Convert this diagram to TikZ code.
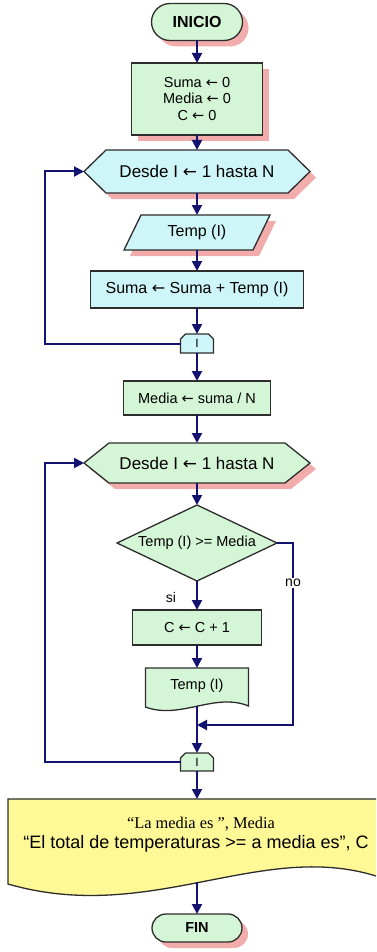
\documentclass[tikz,border=0pt]{standalone}
\usepackage{fontspec}
\setmainfont{Liberation Sans}
\newfontfamily\timesfont{Liberation Serif}
\newfontfamily\arrowfont{DejaVu Sans}
\usetikzlibrary{arrows.meta,shapes.misc,shadows}

\definecolor{gfill}{RGB}{212,245,214}
\definecolor{cfill}{RGB}{206,246,248}
\definecolor{yfill}{RGB}{255,248,150}
\definecolor{pinkshade}{RGB}{242,172,172}
\definecolor{navy}{RGB}{18,18,112}
\definecolor{edge}{RGB}{45,45,45}

\pgfdeclarelayer{paper}
\pgfdeclarelayer{shapes}
\pgfsetlayers{paper,shapes,main}

\newcommand\setfs[2]{\fontsize{#1}{#2}\selectfont}
% assignment arrow
\newcommand\assignarrow{{\arrowfont ←}}

\tikzset{
  lbl/.style={inner sep=0pt, outer sep=0pt, align=center, text=black},
  outline/.style={draw=edge, line width=1.3pt, line join=miter},
  shade/.style={drop shadow={shadow xshift=6pt, shadow yshift=-6pt, fill=pinkshade, opacity=1}},
  conn/.style={draw=navy, line width=2pt, -{Triangle[length=10pt,width=10pt]}},
}

\begin{document}
\begin{tikzpicture}[x=1pt,y=-1pt]
\useasboundingbox (0,0) rectangle (376,952);
\begin{pgfonlayer}{paper}
  \fill[white] (0,0) rectangle (376,952);
\end{pgfonlayer}

% terminals and boxes
\node[lbl, rounded rectangle, outline, fill=gfill, shade, minimum width=91pt, minimum height=37pt, font=\setfs{16}{18}\bfseries] (start) at (197,22) {INICIO};
\node[lbl, rectangle, outline, fill=gfill, shade, minimum width=131pt, minimum height=72pt, font=\setfs{14.5}{16.5}] (init) at (197,99) {Suma \assignarrow{} 0\\Media \assignarrow{} 0\\C \assignarrow{} 0};
\node[lbl, minimum width=226pt, minimum height=43pt, font=\setfs{17}{20}] (loop1) at (197,171.5) {Desde I \assignarrow{} 1 hasta N};
\node[lbl, minimum width=146pt, minimum height=35pt, font=\setfs{16}{18}] (read) at (197,232.5) {Temp (I)};
\node[lbl, rectangle, outline, fill=cfill, minimum width=213pt, minimum height=37pt, font=\setfs{16}{18}] (sum) at (197,289.5) {Suma \assignarrow{} Suma + Temp (I)};
\node[lbl, minimum width=33pt, minimum height=19pt, font=\setfs{12}{14}] (end1) at (197,343.5) {I};
\node[lbl, rectangle, outline, fill=gfill, minimum width=147pt, minimum height=34pt, font=\setfs{14.5}{17}] (mean) at (197,398) {Media \assignarrow{} suma / N};
\node[lbl, minimum width=226pt, minimum height=40pt, font=\setfs{17}{20}] (loop2) at (197,463) {Desde I \assignarrow{} 1 hasta N};
\node[lbl, minimum width=160pt, minimum height=76pt, font=\setfs{14.5}{17}] (test) at (197,543) {Temp (I) >= Media};
\node[lbl, rectangle, outline, fill=gfill, minimum width=129pt, minimum height=35pt, font=\setfs{14.5}{17}] (inc) at (197,627.5) {C \assignarrow{} C + 1};
\node[lbl, minimum width=103pt, minimum height=36pt, font=\setfs{14.5}{17}] (show) at (197,686) {Temp (I)};
\node[lbl, minimum width=33pt, minimum height=18pt, font=\setfs{12}{14}] (end2) at (197,762) {I};
\node[lbl, font=\timesfont\setfs{16.4}{18}] (msg1) at (201,824) {“La media es ”, Media};
\node[lbl, font=\setfs{18}{20}] (msg2) at (196,844) {“El total de temperaturas >= a media es”, C};
\node[lbl, rounded rectangle, outline, fill=gfill, shade, minimum width=90pt, minimum height=28pt, font=\setfs{14.5}{17}\bfseries] (stop) at (197,928) {FIN};

% outlines of the remaining symbols
\begin{pgfonlayer}{shapes}
  \filldraw[outline, fill=cfill, shade] (loop1.west) -- ([xshift=22pt]loop1.north west) -- ([xshift=-22pt]loop1.north east) -- (loop1.east) -- ([xshift=-22pt]loop1.south east) -- ([xshift=22pt]loop1.south west) -- cycle;
  \filldraw[outline, fill=cfill, shade] ([xshift=17pt]read.north west) -- (read.north east) -- ([xshift=-17pt]read.south east) -- (read.south west) -- cycle;
  \filldraw[outline, fill=cfill] (end1.south west) -- ([yshift=-5pt]end1.north west) -- ([xshift=5pt]end1.north west) -- ([xshift=-5pt]end1.north east) -- ([yshift=-5pt]end1.north east) -- (end1.south east) -- cycle;
  \filldraw[outline, fill=gfill, shade] (loop2.west) -- ([xshift=25pt]loop2.north west) -- ([xshift=-25pt]loop2.north east) -- (loop2.east) -- ([xshift=-25pt]loop2.south east) -- ([xshift=25pt]loop2.south west) -- cycle;
  \filldraw[outline, fill=gfill] (test.west) -- (test.north) -- (test.east) -- (test.south) -- cycle;
  \filldraw[outline, fill=gfill] (145.5,668) -- (248.5,668) -- (248.5,706) .. controls (215,692) and (180,720) .. (145.5,707) -- cycle;
  \filldraw[outline, fill=gfill] (end2.south west) -- ([yshift=-5pt]end2.north west) -- ([xshift=5pt]end2.north west) -- ([xshift=-5pt]end2.north east) -- ([yshift=-5pt]end2.north east) -- (end2.south east) -- cycle;
  \fill[yfill] (8,799) -- (376,799) -- (376,876) .. controls (260,840) and (150,925) .. (8,884) -- cycle;
  \draw[outline] (376,799) -- (8,799) -- (8,884) .. controls (150,925) and (260,840) .. (376,876);
\end{pgfonlayer}

% connectors
\coordinate (back1) at (45,343.5);
\coordinate (docb) at (197,706);
\coordinate (join) at (197,725);
\coordinate (nocorner) at (293,725);
\coordinate (back2) at (45,762);
\coordinate (outtop) at (197,799);
\coordinate (outbot) at (197,882);

\draw[conn] (start) -- (init);
\draw[conn] (init) -- (loop1);
\draw[conn] (loop1) -- (read);
\draw[conn] (read) -- (sum);
\draw[conn] (sum) -- (end1);
\draw[conn] (end1.west) -- (back1) |- (loop1.west);
\draw[conn] (end1) -- (mean);
\draw[conn] (mean) -- (loop2);
\draw[conn] (loop2) -- (test);
\draw[conn] (test) -- (inc);
\draw[conn] (inc) -- (show);
\draw[conn] (docb) -- (end2);
\draw[conn] (test.east) -| (nocorner) -- (join);
\draw[conn] (end2.west) -- (back2) |- (loop2.west);
\draw[conn] (end2) -- (outtop);
\draw[conn] (outbot) -- (stop);

% branch labels
\node[lbl, fill=white, inner sep=1.5pt, font=\setfs{14}{16}] (nolbl) at (293,583) {no};
\node[lbl, font=\setfs{14}{16}] (silbl) at (171,597) {si};
\end{tikzpicture}
\end{document}
